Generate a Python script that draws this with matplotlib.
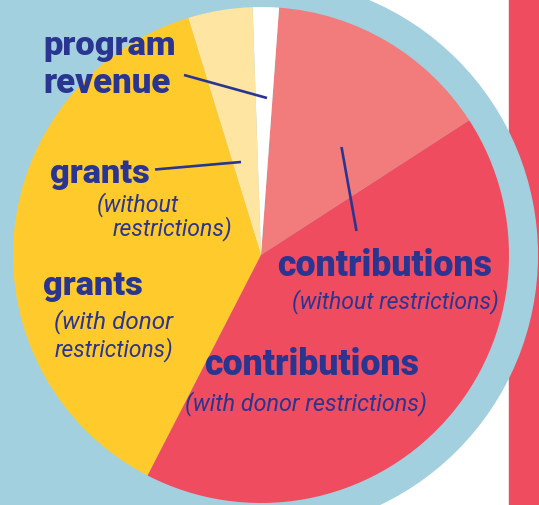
import matplotlib
matplotlib.use("Agg")
import matplotlib.pyplot as plt
from matplotlib.patches import Circle, Rectangle

# ---- data (shares of revenue, in %) ----
categories = ["contributions (without restrictions)", "program revenue",
              "grants (without restrictions)", "grants (with donor restrictions)",
              "contributions (with donor restrictions)"]
shares = [14.7, 1.7, 4.2, 37.7, 41.7]
colors = ["#F27C7C", "#FFFFFF", "#FEE6A2", "#FFCB2C", "#EF4C5F"]

# label texts: (text, bold?, left x px, baseline y px, target width px)
label_texts = [
    ("program", True, 43, 55, 133),
    ("revenue", True, 43, 93, 128),
    ("grants", True, 50, 183, 100),
    ("(without", False, 97, 211, 82),
    ("restrictions)", False, 113, 235, 120),
    ("grants", True, 43, 295, 100),
    ("(with donor", False, 54, 328, 119),
    ("restrictions)", False, 55, 356, 119),
    ("contributions", True, 277, 276, 215),
    ("(without restrictions)", False, 292, 308, 208),
    ("contributions", True, 204, 375, 215),
    ("(with donor restrictions)", False, 185, 410, 243),
]
# leader lines (image px): (x0, y0, x1, y1)
leaders = [
    (184, 76, 267, 99),
    (155, 170.5, 241, 163),
    (341.5, 148, 356.5, 232),
]

W, H = 539, 506
NAVY = "#2A3591"
LBLUE = "#A3D0DE"

fig = plt.figure(figsize=(W / 100, H / 100), dpi=100)
ax = fig.add_axes([0, 0, 1, 1])
ax.set_xlim(0, W)
ax.set_ylim(0, H)
ax.set_aspect("equal")
ax.axis("off")
fig.patch.set_facecolor("white")

cx, cy = 261, H - 256
# background shapes
ax.add_patch(Rectangle((509, 0), 30, H, color="#EF4C5F", zorder=0))
ax.add_patch(Rectangle((0, 0), cx, H, color=LBLUE, zorder=1, lw=0))
ax.add_patch(Circle((cx, cy), 277, color=LBLUE, zorder=1, lw=0))

wedges, _ = ax.pie(shares, colors=colors, startangle=32.9, counterclock=True,
                   center=(cx, cy), radius=248, frame=True,
                   wedgeprops=dict(linewidth=0, antialiased=True))
for w in wedges:
    w.set_zorder(2)
ax.set_xlim(0, W)
ax.set_ylim(0, H)
ax.axis("off")

for x0, y0, x1, y1 in leaders:
    ax.plot([x0, x1], [H - y0, H - y1], color=NAVY, lw=1.9,
            solid_capstyle="butt", zorder=4)

texts = []
for txt, bold, lx, by, tw in label_texts:
    if bold:
        t = ax.text(lx, H - by, txt, ha="left", va="baseline", fontsize=20,
                    family=["Roboto", "DejaVu Sans"], fontweight="black",
                    color=NAVY, zorder=5)
    else:
        t = ax.text(lx, H - by, txt, ha="left", va="baseline", fontsize=15,
                    family=["Roboto", "DejaVu Sans"], fontweight="normal",
                    style="italic", color=NAVY, zorder=5)
    texts.append((t, tw))

fig.canvas.draw()
r = fig.canvas.get_renderer()
for t, tw in texts:
    w = t.get_window_extent(r).width
    t.set_fontsize(t.get_fontsize() * tw / w)

fig.savefig("out.png", dpi=100, facecolor="white")
